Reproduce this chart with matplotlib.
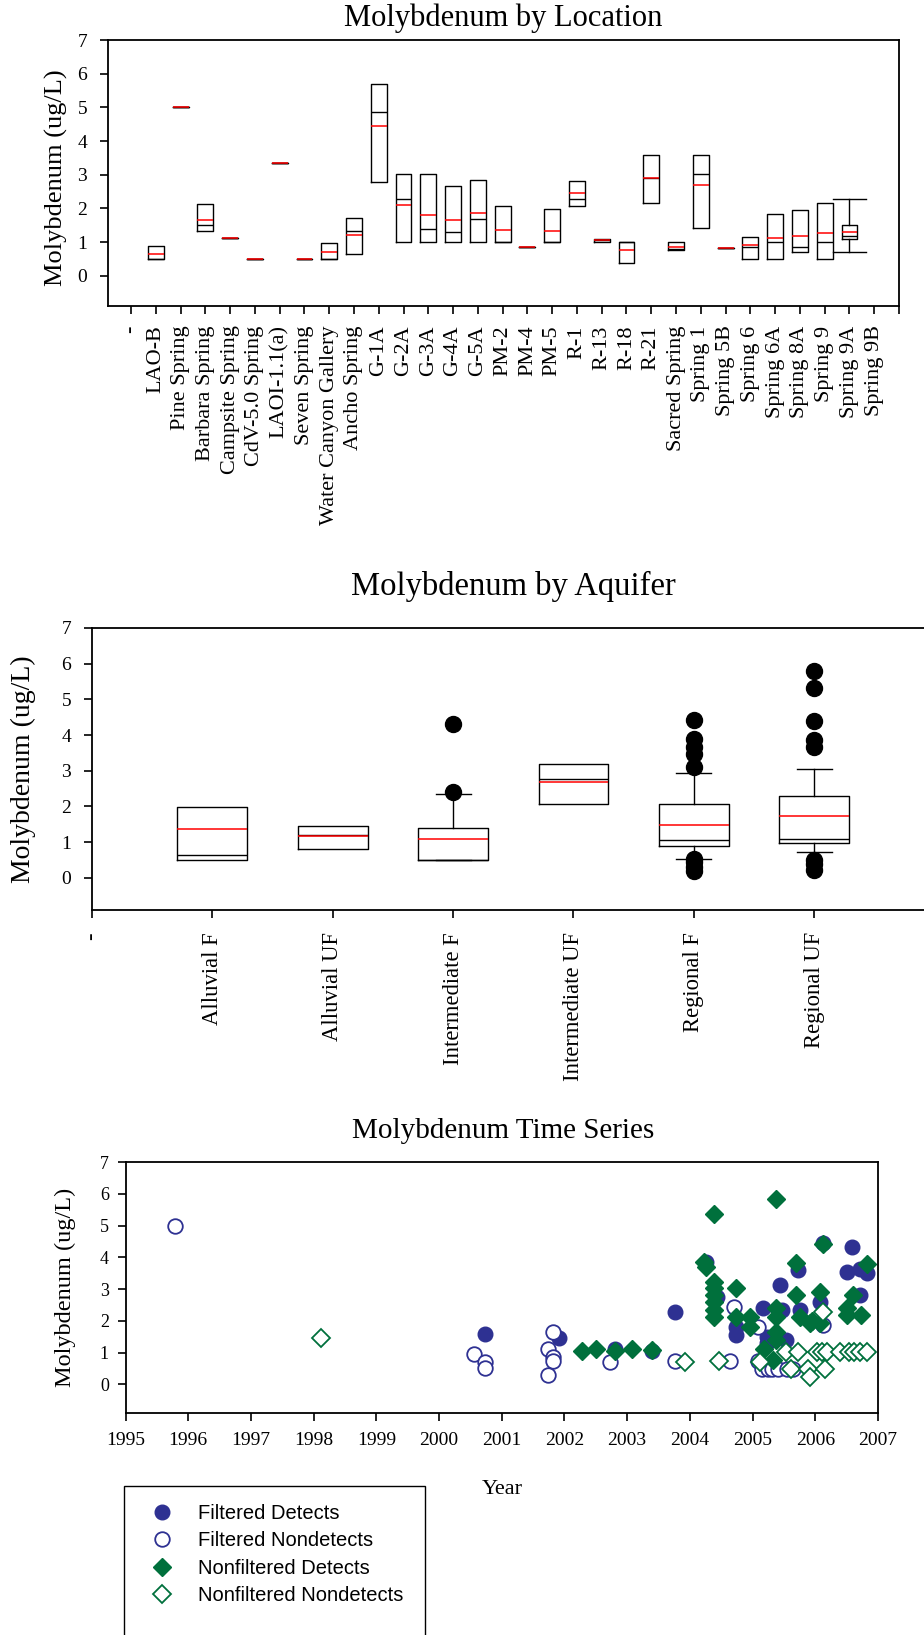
import matplotlib
matplotlib.use('Agg')
import matplotlib.pyplot as plt
from matplotlib.lines import Line2D
from matplotlib.patches import Rectangle

W, H = 924, 1635
SERIF = ['Liberation Serif', 'DejaVu Serif']
SANS = ['Liberation Sans', 'DejaVu Sans']
plt.rcParams['font.family'] = SERIF

# ---------------- Chart 1: by location ----------------
loc_labels = ['-', 'LAO-B', 'Pine Spring', 'Barbara Spring', 'Campsite Spring',
              'CdV-5.0 Spring', 'LAOI-1.1(a)', 'Seven Spring', 'Water Canyon Gallery',
              'Ancho Spring', 'G-1A', 'G-2A', 'G-3A', 'G-4A', 'G-5A', 'PM-2', 'PM-4',
              'PM-5', 'R-1', 'R-13', 'R-18', 'R-21', 'Sacred Spring', 'Spring 1',
              'Spring 5B', 'Spring 6', 'Spring 6A', 'Spring 8A', 'Spring 9',
              'Spring 9A', 'Spring 9B']
loc_names = ['LAO-B', 'Pine Spring', 'Barbara Spring', 'Campsite Spring',
             'CdV-5.0 Spring', 'LAOI-1.1(a)', 'Seven Spring', 'Water Canyon Gallery',
             'Ancho Spring', 'G-1A', 'G-2A', 'G-3A', 'G-4A', 'G-5A', 'PM-2', 'PM-4',
             'PM-5', 'R-1', 'R-13', 'R-18', 'R-21', 'Sacred Spring', 'Spring 1',
             'Spring 5B', 'Spring 6', 'Spring 6A', 'Spring 8A', 'Spring 9', 'Spring 9A']
loc_q1 = [0.50, 5.00, 1.32, 1.11, 0.50, 3.35, 0.50, 0.50, 0.65, 2.77, 1.00, 1.00, 1.00,
          1.00, 1.00, 0.85, 1.00, 2.07, 1.00, 0.38, 2.17, 0.75, 1.42, 0.82, 0.51, 0.50,
          0.71, 0.50, 1.09]
loc_med = [0.50, 5.00, 1.50, 1.11, 0.50, 3.35, 0.50, 0.50, 1.33, 4.87, 2.29, 1.40, 1.29,
           1.69, 1.00, 0.85, 1.00, 2.29, 1.05, 1.00, 2.90, 0.80, 3.01, 0.82, 0.85, 1.00,
           0.85, 1.00, 1.17]
loc_q3 = [0.88, 5.00, 2.13, 1.11, 0.50, 3.35, 0.50, 0.97, 1.71, 5.68, 3.03, 3.02, 2.67,
          2.85, 2.07, 0.85, 1.97, 2.82, 1.09, 1.00, 3.58, 0.99, 3.59, 0.82, 1.15, 1.84,
          1.94, 2.16, 1.51]
loc_mean = [0.65, 5.00, 1.65, 1.11, 0.50, 3.35, 0.50, 0.70, 1.22, 4.45, 2.11, 1.79, 1.65,
            1.87, 1.35, 0.85, 1.33, 2.47, 1.05, 0.75, 2.90, 0.85, 2.68, 0.82, 0.92, 1.12,
            1.18, 1.27, 1.31]
loc_whislo = [0.50, 5.00, 1.32, 1.11, 0.50, 3.35, 0.50, 0.50, 0.65, 2.77, 1.00, 1.00, 1.00,
              1.00, 1.00, 0.85, 1.00, 2.07, 1.00, 0.38, 2.17, 0.75, 1.42, 0.82, 0.51, 0.50,
              0.71, 0.50, 0.69]
loc_whishi = [0.88, 5.00, 2.13, 1.11, 0.50, 3.35, 0.50, 0.97, 1.71, 5.68, 3.03, 3.02, 2.67,
              2.85, 2.07, 0.85, 1.97, 2.82, 1.09, 1.00, 3.58, 0.99, 3.59, 0.82, 1.15, 1.84,
              1.94, 2.16, 2.27]
loc_has_whisk = [n == 'Spring 9A' for n in loc_names]

# ---------------- Chart 2: by aquifer ----------------
aq_labels = ['-', 'Alluvial F', 'Alluvial UF', 'Intermediate F', 'Intermediate UF',
             'Regional F', 'Regional UF']
aq_names = ['Alluvial F', 'Alluvial UF', 'Intermediate F', 'Intermediate UF',
            'Regional F', 'Regional UF']
aq_q1 = [0.49, 0.82, 0.49, 2.08, 0.90, 0.99]
aq_med = [0.64, 1.21, 0.50, 2.78, 1.06, 1.08]
aq_q3 = [1.99, 1.46, 1.41, 3.18, 2.08, 2.30]
aq_mean = [1.37, 1.17, 1.09, 2.69, 1.47, 1.73]
aq_whislo = [0.49, 0.82, 0.49, 2.08, 0.52, 0.72]
aq_whishi = [1.99, 1.46, 2.36, 3.18, 2.94, 3.04]
aq_has_whisk = [False, False, True, False, True, True]
aq_fliers = [[], [], [2.40, 4.30], [],
             [0.20, 0.31, 0.45, 0.54, 3.11, 3.48, 3.67, 3.88, 4.42],
             [0.22, 0.40, 0.50, 3.67, 3.86, 4.39, 5.33, 5.79]]

# ---------------- Chart 3: time series ----------------
fd_year = [2000.73, 2001.92, 2002.81, 2003.39, 2003.76, 2004.25, 2004.43, 2004.73, 2004.73,
           2005.17, 2005.23, 2005.23, 2005.44, 2005.47, 2005.54, 2005.73, 2005.75, 2006.08,
           2006.13, 2006.51, 2006.58, 2006.72, 2006.82, 2006.71]
fd_val = [1.59, 1.46, 1.10, 1.05, 2.28, 3.85, 2.76, 1.81, 1.55,
          2.39, 1.50, 1.29, 3.12, 2.34, 1.39, 3.60, 2.34, 2.60,
          4.45, 3.54, 4.33, 3.62, 3.50, 2.81]
fn_year = [1995.79, 2000.56, 2000.73, 2000.73, 2001.73, 2001.81, 2001.82, 2001.81, 2001.73,
           2002.73, 2003.76, 2004.64, 2004.71, 2005.08, 2005.09, 2005.15, 2005.24, 2005.31,
           2005.40, 2005.55, 2005.65, 2006.13]
fn_val = [5.00, 0.95, 0.72, 0.53, 1.10, 1.65, 0.85, 0.74, 0.29,
          0.72, 0.73, 0.73, 2.44, 1.81, 0.73, 0.50, 0.50, 0.50,
          0.50, 0.50, 0.50, 1.87]
nd_year = [2002.28, 2002.50, 2002.81, 2003.07, 2003.39, 2004.25, 2004.23, 2004.39, 2004.39,
           2004.39, 2004.39, 2004.39, 2004.39, 2004.39, 2004.73, 2004.73, 2004.96, 2004.96,
           2005.18, 2005.37, 2005.37, 2005.37, 2005.37, 2005.37, 2005.33, 2005.69, 2005.69,
           2005.75, 2005.91, 2005.95, 2006.07, 2006.08, 2006.13, 2006.50, 2006.50, 2006.60,
           2006.73, 2006.82]
nd_val = [1.05, 1.10, 1.06, 1.10, 1.08, 3.70, 3.86, 5.36, 3.23,
          3.02, 2.81, 2.60, 2.34, 2.13, 3.02, 2.13, 2.13, 1.81,
          1.13, 5.82, 2.39, 2.13, 1.66, 1.39, 0.76, 3.82, 2.81,
          2.13, 1.92, 2.00, 2.91, 1.92, 4.43, 2.39, 2.18, 2.81,
          2.18, 3.80]
nn_year = [1998.11, 2003.93, 2004.46, 2005.12, 2005.53, 2005.62, 2005.73, 2005.88, 2005.92,
           2006.16, 2006.13, 2006.02, 2006.10, 2006.18, 2006.40, 2006.53, 2006.61, 2006.71,
           2006.82]
nn_val = [1.45, 0.71, 0.73, 0.71, 1.03, 0.50, 1.03, 0.50, 0.24,
          0.50, 2.28, 1.03, 1.03, 1.03, 1.03, 1.03, 1.03, 1.03,
          1.03]
years = list(range(1995, 2008))

BLUE = '#2E3192'
GREEN = '#00703C'

fig = plt.figure(figsize=(W / 100, H / 100), dpi=100)


def ax_px(l, t, r, b):
    return fig.add_axes([l / W, 1 - b / H, (r - l) / W, (b - t) / H])


def style_axes(ax, spine_lw=1.3):
    for s in ax.spines.values():
        s.set_linewidth(spine_lw)
        s.set_color('black')
    ax.tick_params(direction='out', length=6, width=1.2, colors='black')


def make_stats(q1, med, q3, mean, lo, hi, fliers=None):
    out = []
    for i in range(len(q1)):
        out.append(dict(q1=q1[i], med=med[i], q3=q3[i], mean=mean[i],
                        whislo=lo[i], whishi=hi[i],
                        fliers=(fliers[i] if fliers else [])))
    return out


def place_ylabel(ax, text, size, xpx, ycen_frac, l, r):
    ax.set_ylabel(text, fontsize=size, va='center', ha='center')
    ax.yaxis.set_label_coords((xpx - l) / (r - l), ycen_frac)


# ===== Chart 1 =====
L1, T1, R1, B1 = 108, 40, 899, 306
ax1 = ax_px(L1, T1, R1, B1)
pos1 = [loc_labels.index(n) for n in loc_names]
stats1 = make_stats(loc_q1, loc_med, loc_q3, loc_mean, loc_whislo, loc_whishi)
ax1.bxp(stats1, positions=pos1, widths=0.64, showmeans=True, meanline=True,
        showfliers=False, manage_ticks=False,
        capwidths=[1.3 if w else 0.0 for w in loc_has_whisk],
        boxprops=dict(color='black', linewidth=1.0),
        whiskerprops=dict(color='black', linewidth=1.0),
        capprops=dict(color='black', linewidth=1.0),
        medianprops=dict(color='black', linewidth=1.0),
        meanprops=dict(color='red', linewidth=1.1, linestyle='-'))
ax1.set_xlim(-0.93, 31.0)
ax1.set_ylim(-0.9, 7)
ax1.set_yticks(range(0, 8))
ax1.set_yticklabels([str(v) for v in range(0, 8)], fontsize=14)
ax1.set_xticks(range(0, len(loc_labels) + 1))
ax1.set_xticklabels(loc_labels + [''], rotation=90, fontsize=16, va='top', ha='center')
style_axes(ax1)
ax1.tick_params(axis='y', pad=9)
ax1.tick_params(axis='x', pad=8)
place_ylabel(ax1, 'Molybdenum (ug/L)', 19, 56, 0.483, L1, R1)
fig.text(503 / W, 1 - 18 / H, 'Molybdenum by Location', ha='center', va='center',
         fontsize=22, family=SERIF)

# ===== Chart 2 =====
L2, T2, R2, B2 = 92, 628, 934.5, 910
ax2 = ax_px(L2, T2, R2, B2)
pos2 = [aq_labels.index(n) for n in aq_names]
stats2 = make_stats(aq_q1, aq_med, aq_q3, aq_mean, aq_whislo, aq_whishi, aq_fliers)
ax2.bxp(stats2, positions=pos2, widths=0.58, showmeans=True, meanline=True,
        showfliers=True, manage_ticks=False,
        capwidths=[0.29 if w else 0.0 for w in aq_has_whisk],
        boxprops=dict(color='black', linewidth=1.0),
        whiskerprops=dict(color='black', linewidth=1.0),
        capprops=dict(color='black', linewidth=1.0),
        medianprops=dict(color='black', linewidth=1.0),
        meanprops=dict(color='red', linewidth=1.1, linestyle='-'),
        flierprops=dict(marker='o', markerfacecolor='black', markeredgecolor='black',
                        markersize=11.5, linestyle='none'))
ax2.set_xlim(0, 7)
ax2.set_ylim(-0.9, 7)
ax2.set_yticks(range(0, 8))
ax2.set_yticklabels([str(v) for v in range(0, 8)], fontsize=14)
ax2.set_xticks(range(0, len(aq_labels)))
ax2.set_xticklabels(aq_labels, rotation=90, fontsize=16.3, va='top', ha='center')
style_axes(ax2)
ax2.tick_params(axis='y', pad=9)
ax2.tick_params(axis='x', pad=10)
place_ylabel(ax2, 'Molybdenum (ug/L)', 20, 23, 0.498, L2, R2)
fig.text(513 / W, 1 - 586 / H, 'Molybdenum by Aquifer', ha='center', va='center',
         fontsize=23.5, family=SERIF)

# ===== Chart 3 =====
L3, T3, R3, B3 = 125.5, 1162, 878, 1413
ax3 = ax_px(L3, T3, R3, B3)
ax3.plot(fd_year, fd_val, linestyle='none', marker='o', markersize=10.5,
         markerfacecolor=BLUE, markeredgecolor=BLUE, label='Filtered Detects')
ax3.plot(fn_year, fn_val, linestyle='none', marker='o', markersize=10.5,
         markerfacecolor='white', markeredgecolor=BLUE, markeredgewidth=1.3,
         label='Filtered Nondetects')
ax3.plot(nd_year, nd_val, linestyle='none', marker='D', markersize=9.3,
         markerfacecolor=GREEN, markeredgecolor=GREEN, label='Nonfiltered Detects')
ax3.plot(nn_year, nn_val, linestyle='none', marker='D', markersize=9.3,
         markerfacecolor='white', markeredgecolor=GREEN, markeredgewidth=1.3,
         label='Nonfiltered Nondetects')
ax3.set_xlim(1995, 2007)
ax3.set_ylim(-0.9, 7)
ax3.set_xticks(years)
ax3.set_xticklabels([str(y) for y in years], fontsize=14)
ax3.set_yticks(range(0, 8))
ax3.set_yticklabels([str(v) for v in range(0, 8)], fontsize=13)
style_axes(ax3)
ax3.tick_params(axis='x', pad=8)
ax3.tick_params(axis='y', pad=6)
place_ylabel(ax3, 'Molybdenum (ug/L)', 17.5, 65, 0.5, L3, R3)
fig.text(503 / W, 1 - 1131 / H, 'Molybdenum Time Series', ha='center', va='center',
         fontsize=21, family=SERIF)
fig.text(502 / W, 1 - 1489 / H, 'Year', ha='center', va='center', fontsize=16, family=SERIF)

# legend box
fig.patches.append(Rectangle((124 / W, -0.01), (425 - 124) / W, (1 - 1486 / H) + 0.01,
                             transform=fig.transFigure, facecolor='white',
                             edgecolor='black', linewidth=1.0))
handles = [
    Line2D([], [], linestyle='none', marker='o', markersize=10.5, markerfacecolor=BLUE,
           markeredgecolor=BLUE),
    Line2D([], [], linestyle='none', marker='o', markersize=10.5, markerfacecolor='white',
           markeredgecolor=BLUE, markeredgewidth=1.3),
    Line2D([], [], linestyle='none', marker='D', markersize=9.3, markerfacecolor=GREEN,
           markeredgecolor=GREEN),
    Line2D([], [], linestyle='none', marker='D', markersize=9.3, markerfacecolor='white',
           markeredgecolor=GREEN, markeredgewidth=1.3),
]
leg_labels = ['Filtered Detects', 'Filtered Nondetects', 'Nonfiltered Detects',
              'Nonfiltered Nondetects']
fig.legend(handles, leg_labels, loc='upper left',
           bbox_to_anchor=(152 / W, 1 - 1504 / H), frameon=False,
           prop=dict(family=SANS, size=14.5), handlelength=1.0, handletextpad=1.3,
           labelspacing=0.42, borderpad=0, borderaxespad=0)

fig.savefig('out.png', dpi=100)
